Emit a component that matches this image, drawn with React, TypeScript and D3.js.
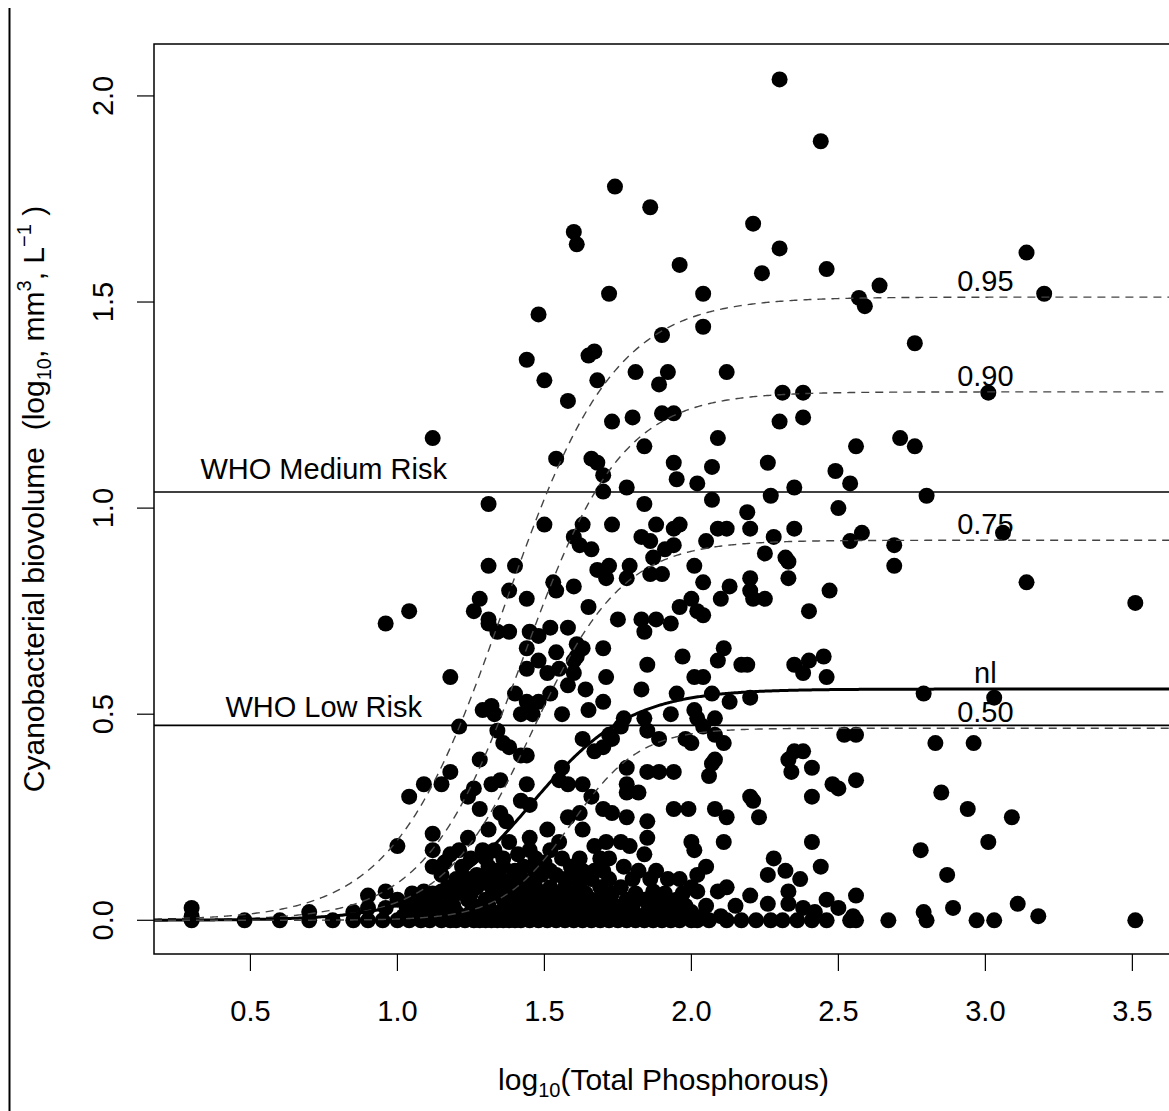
import React from 'react';
import * as d3 from 'd3';

// ---------- data (log10 TP, log10 biovolume) ----------
const highPoints: [number, number][] = [
  [2.30,2.04],[2.44,1.89],[1.74,1.78],[1.86,1.73],[2.21,1.69],[1.60,1.67],[1.61,1.64],[2.30,1.63],[3.14,1.62],
  [1.96,1.59],[2.24,1.57],[2.46,1.58],[2.64,1.54],[1.72,1.52],[2.04,1.52],[2.57,1.51],[2.59,1.49],[3.20,1.52],
  [1.48,1.47],[1.90,1.42],[2.04,1.44],[1.44,1.36],[1.65,1.37],[1.67,1.38],[1.50,1.31],[1.68,1.31],[1.81,1.33],
  [1.92,1.33],[1.89,1.30],[2.12,1.33],[1.58,1.26],[2.76,1.40],[2.31,1.28],[2.38,1.28],[3.01,1.28],[1.73,1.21],
  [1.80,1.22],[1.90,1.23],[1.94,1.23],[2.30,1.21],[2.38,1.22],[1.12,1.17],[2.09,1.17],[2.56,1.15],[2.71,1.17],
  [2.76,1.15],[1.84,1.15],[1.54,1.12],[1.66,1.12],[1.68,1.11],[1.94,1.11],[2.26,1.11],[2.07,1.10],[1.70,1.08],
  [1.95,1.07],[2.49,1.09],[2.02,1.06],[2.54,1.06],[2.35,1.05],[2.07,1.02],[2.80,1.03],[2.27,1.03],[2.50,1.00],
  [1.31,1.01],[1.70,1.04],[1.78,1.05],[1.84,1.01]
];

const midPoints: [number, number][] = [
  [2.19,0.99],[1.73,0.96],[1.88,0.96],[1.94,0.95],[1.96,0.96],[1.50,0.96],[1.63,0.96],[2.09,0.95],[2.12,0.95],
  [2.20,0.95],[2.35,0.95],[1.60,0.93],[1.62,0.91],[1.66,0.90],[1.83,0.93],[1.86,0.92],[1.91,0.90],[1.94,0.91],
  [2.05,0.92],[2.28,0.93],[2.58,0.94],[3.06,0.94],[2.54,0.92],[2.69,0.91],[2.25,0.89],[2.32,0.88],[1.31,0.86],
  [1.40,0.86],[1.68,0.85],[1.72,0.86],[1.79,0.86],[1.87,0.88],[1.53,0.82],[1.54,0.80],[1.60,0.81],[1.71,0.83],
  [1.78,0.83],[1.86,0.84],[1.90,0.84],[2.01,0.86],[2.04,0.82],[2.69,0.86],[2.20,0.83],[3.14,0.82],[2.33,0.83],
  [1.38,0.80],[1.44,0.78],[1.28,0.78],[1.26,0.75],[1.31,0.73],[1.31,0.72],[1.34,0.70],[1.38,0.70],[1.45,0.70],
  [1.48,0.69],[1.52,0.71],[1.58,0.71],[1.61,0.67],[1.63,0.66],[1.65,0.76],[1.75,0.73],[1.83,0.73],[1.84,0.70],
  [1.88,0.73],[1.93,0.72],[1.96,0.76],[2.00,0.78],[2.02,0.75],[2.04,0.74],[2.13,0.81],[2.20,0.80],[2.21,0.78],
  [2.25,0.78],[2.33,0.87],[2.47,0.80],[2.40,0.75],[2.10,0.78],[0.96,0.72],[1.04,0.75],[3.51,0.77],
  [1.44,0.66],[1.48,0.63],[1.54,0.65],[1.61,0.64],[1.44,0.61],[1.51,0.60],[1.55,0.61],[1.60,0.60],[1.60,0.63],
  [1.70,0.66],[1.85,0.62],[1.97,0.64],[2.11,0.66],[2.09,0.63],[2.17,0.62],[2.19,0.62],[2.35,0.62],[2.40,0.63],
  [2.45,0.64]
];

const lowPoints: [number, number][] = [
  [1.71,0.59],[1.58,0.57],[1.64,0.56],[2.01,0.59],[2.04,0.59],[1.18,0.59],[1.40,0.55],[1.44,0.53],[1.48,0.53],
  [1.52,0.55],[1.83,0.56],[1.95,0.55],[2.38,0.60],[2.46,0.59],[2.07,0.55],[2.13,0.53],[2.20,0.54],[1.70,0.53],
  [2.79,0.55],[3.03,0.54],
  [1.29,0.51],[1.32,0.52],[1.33,0.50],[1.42,0.50],[1.46,0.50],[1.56,0.50],[1.65,0.51],[1.21,0.47],[1.34,0.46],
  [1.36,0.43],[1.38,0.42],[1.42,0.40],[1.44,0.40],[1.63,0.44],[1.72,0.45],[1.76,0.47],[1.77,0.49],[1.73,0.44],
  [1.70,0.42],[1.67,0.41],[1.28,0.39],[1.84,0.49],[1.85,0.46],[1.89,0.44],[1.93,0.50],[1.98,0.44],[2.01,0.51],
  [2.02,0.49],[2.04,0.47],[2.08,0.49],[2.08,0.45],[2.11,0.43],[2.00,0.43],[2.08,0.39],[2.52,0.45],[2.56,0.45],
  [2.33,0.39],[2.38,0.41],[2.35,0.41],[2.41,0.37],[2.83,0.43],[2.96,0.43],
  [1.18,0.36],[1.15,0.33],[1.09,0.33],[1.04,0.30],[1.35,0.34],[1.32,0.33],[1.44,0.33],[1.26,0.32],[1.56,0.37],
  [1.78,0.37],[1.85,0.36],[1.89,0.36],[1.94,0.36],[2.06,0.35],[1.55,0.34],[1.58,0.33],[1.63,0.33],[1.78,0.33],
  [2.07,0.38],[2.34,0.36],[2.48,0.33],[2.50,0.32],[2.56,0.34],[2.85,0.31]
];

const basePoints: [number, number][] = [
  [1.24,0.30],[1.28,0.27],[1.42,0.29],[1.45,0.28],[1.35,0.26],[1.37,0.24],[1.31,0.22],[1.24,0.20],[1.12,0.21],
  [1.66,0.30],[1.78,0.31],[1.82,0.31],[2.20,0.30],[1.70,0.27],[1.73,0.26],[1.78,0.25],[1.62,0.26],[1.63,0.22],
  [1.58,0.25],[1.85,0.24],[1.94,0.27],[1.99,0.27],[2.08,0.27],[2.12,0.25],[2.21,0.29],[2.23,0.25],[2.41,0.30],
  [1.51,0.22],[1.45,0.20],[1.55,0.19],[2.94,0.27],[3.09,0.25],
  [1.12,0.17],[1.12,0.13],[1.00,0.18],[1.29,0.17],[1.33,0.17],[1.22,0.13],[1.31,0.13],[1.36,0.13],[1.43,0.13],
  [1.50,0.14],[1.41,0.16],[1.56,0.15],[1.85,0.20],[1.67,0.18],[1.71,0.19],[1.76,0.19],[1.79,0.18],[1.84,0.16],
  [2.00,0.19],[2.01,0.17],[1.72,0.15],[1.77,0.13],[1.82,0.12],[1.88,0.12],[1.96,0.10],[1.59,0.13],[1.67,0.12],
  [1.61,0.10],[2.11,0.19],[2.41,0.19],[2.05,0.13],[2.28,0.15],[2.32,0.12],[2.26,0.11],[2.37,0.10],[2.44,0.13],
  [2.02,0.11],[2.78,0.17],[2.87,0.11],[3.01,0.19],
  [1.18,0.16],[1.21,0.17],[1.25,0.15],[1.27,0.11],[1.38,0.19],[1.45,0.17],[1.52,0.17],[1.49,0.11],[1.54,0.11],
  [1.42,0.10],[1.35,0.10],[1.20,0.10],[1.15,0.11],[1.16,0.14]
];

const nearZeroPoints: [number, number][] = [
  [0.30,0.03],[0.30,0.01],[0.70,0.02],[0.85,0.02],[0.90,0.06],[0.90,0.03],[0.96,0.07],[0.96,0.03],[1.00,0.05],
  [1.09,0.07],[1.09,0.04],[1.15,0.07],
  [1.10,0.02],[1.15,0.02],[1.20,0.02],[1.25,0.02],[1.30,0.02],[1.35,0.02],[1.40,0.02],[1.45,0.02],[1.50,0.02],
  [1.55,0.02],[1.60,0.02],[1.65,0.02],[1.70,0.02],[1.75,0.02],[1.80,0.02],[1.85,0.02],[1.90,0.02],[1.95,0.02],
  [2.00,0.02],
  [1.12,0.05],[1.18,0.05],[1.24,0.05],[1.30,0.05],[1.36,0.05],[1.42,0.05],[1.48,0.05],[1.54,0.05],[1.60,0.05],
  [1.66,0.05],[1.72,0.05],[1.78,0.05],[1.84,0.05],[1.90,0.05],
  [1.17,0.08],[1.22,0.08],[1.27,0.08],[1.32,0.08],[1.37,0.08],[1.42,0.08],[1.47,0.08],[1.52,0.08],[1.57,0.08],
  [1.62,0.08],[1.69,0.08],[1.76,0.08],
  [1.58,0.06],[1.65,0.04],[1.78,0.03],[1.87,0.03],[1.92,0.03],[1.87,0.07],[1.95,0.05],[2.00,0.08],[2.02,0.07],
  [2.09,0.07],[2.12,0.08],[2.20,0.06],[2.33,0.07],[2.26,0.04],[2.33,0.04],[2.38,0.03],[2.46,0.05],[2.56,0.06],
  [2.42,0.02],[2.55,0.01],[2.50,0.03],[2.89,0.03],[3.11,0.04],[3.18,0.01],[2.79,0.02]
];

const denseBandPoints: [number, number][] = [
  [1.02,0.01],[1.06,0.01],[1.13,0.01],[1.17,0.01],[1.22,0.01],[1.27,0.01],[1.33,0.01],[1.38,0.01],[1.43,0.01],
  [1.47,0.01],[1.53,0.01],[1.58,0.01],[1.62,0.01],[1.67,0.01],[1.73,0.01],[1.77,0.01],[1.83,0.01],[1.88,0.01],
  [1.92,0.01],[1.98,0.01],[2.04,0.01],[2.10,0.01],
  [1.03,0.035],[1.07,0.035],[1.14,0.035],[1.19,0.035],[1.26,0.035],[1.31,0.035],[1.37,0.035],[1.41,0.035],
  [1.46,0.035],[1.51,0.035],[1.57,0.035],[1.63,0.035],[1.68,0.035],[1.74,0.035],[1.80,0.035],[1.86,0.035],
  [1.93,0.035],[1.98,0.035],[2.05,0.035],[2.15,0.035],
  [1.05,0.065],[1.12,0.065],[1.20,0.065],[1.25,0.065],[1.34,0.065],[1.39,0.065],[1.45,0.065],[1.50,0.065],
  [1.55,0.065],[1.64,0.065],[1.70,0.065],[1.73,0.065],[1.81,0.065],[1.91,0.065],[1.97,0.065],
  [1.24,0.10],[1.30,0.10],[1.39,0.10],[1.46,0.10],[1.57,0.10],[1.66,0.10],[1.72,0.10],[1.80,0.10],[1.86,0.10],
  [1.92,0.10],
  [1.33,0.12],[1.40,0.12],[1.47,0.12],[1.52,0.12],[1.63,0.12],[1.70,0.12],
  [1.30,0.15],[1.36,0.15],[1.47,0.15],[1.62,0.15],[1.69,0.15]
];

const zeroTP: number[] = [
  0.30,0.48,0.60,0.70,0.78,0.85,0.90,0.95,1.00,1.04,1.08,1.11,1.15,1.18,1.20,1.23,1.26,1.28,1.30,1.32,1.34,
  1.36,1.38,1.40,1.42,1.45,1.48,1.51,1.54,1.57,1.60,1.63,1.66,1.69,1.72,1.75,1.78,1.81,1.84,1.87,1.90,1.93,
  1.96,2.00,2.02,2.06,2.12,2.17,2.22,2.27,2.31,2.36,2.41,2.46,2.54,2.56,2.67,2.80,2.97,3.03,3.51
];

// fitted logistic curves (quantiles and nl)
const curveLabels = ['0.95', '0.90', '0.75', 'nl', '0.50'];
const curveAsym = [1.512, 1.282, 0.922, 0.561, 0.466];
const curveMid = [1.361, 1.43, 1.46, 1.453, 1.59];
const curveRate = [5.3, 6.0, 6.5, 5.9, 8.5];

const whoLabels = ['WHO Medium Risk', 'WHO Low Risk'];
const whoLevels = [1.039, 0.473];
const whoLabelX = [0.33, 0.415];

const xTicks = [0.5, 1.0, 1.5, 2.0, 2.5, 3.0, 3.5];
const yTicks = [0.0, 0.5, 1.0, 1.5, 2.0];
const xDomain: [number, number] = [0.172, 3.628];
const yDomain: [number, number] = [-0.0818, 2.126];

const FONT = "'Liberation Sans', Arial, Helvetica, sans-serif";

export default function App() {
  const W = 1169, H = 1111;
  const pl = 154, pr = 1170, pt = 44, pb = 954;
  const x = d3.scaleLinear().domain(xDomain).range([pl, pr]);
  const y = d3.scaleLinear().domain(yDomain).range([pb, pt]);

  const allPoints: [number, number][] = [
    ...zeroTP.map((t) => [t, 0] as [number, number]),
    ...denseBandPoints, ...nearZeroPoints, ...basePoints, ...lowPoints, ...midPoints, ...highPoints,
  ];

  const xs = d3.range(xDomain[0], xDomain[1] + 0.005, 0.005);
  const logistic = (i: number) => (t: number) => curveAsym[i] / (1 + Math.exp(-curveRate[i] * (t - curveMid[i])));
  const line = d3.line<[number, number]>().x((d) => x(d[0])).y((d) => y(d[1]));

  return (
    <svg width={W} height={H} style={{ position: 'absolute', left: 0, top: 0, background: '#fff' }}
      fontFamily={FONT}>
      <defs>
        <clipPath id="plotclip">
          <rect x={pl} y={pt} width={pr - pl} height={pb - pt} />
        </clipPath>
      </defs>
      <rect x={0} y={0} width={W} height={H} fill="#fff" />
      {/* left border artifact */}
      <line x1={9.5} x2={9.5} y1={8} y2={H} stroke="#000" strokeWidth={2} />

      <g clipPath="url(#plotclip)">
        {allPoints.map((p, i) => (
          <circle key={i} cx={x(p[0])} cy={y(p[1])} r={8} fill="#000" />
        ))}
        {whoLevels.map((v, i) => (
          <line key={'w' + i} x1={pl} x2={pr} y1={y(v)} y2={y(v)} stroke="#000" strokeWidth={1.6} />
        ))}
        {curveLabels.map((lab, i) => (
          <path key={'c' + i}
            d={line(xs.map((t) => [t, logistic(i)(t)] as [number, number])) || ''}
            fill="none"
            stroke={lab === 'nl' ? '#000' : '#444'}
            strokeWidth={lab === 'nl' ? 3 : 1.4}
            strokeDasharray={lab === 'nl' ? undefined : '8,6'} />
        ))}
        {whoLabels.map((lab, i) => (
          <text key={'wl' + i} x={x(whoLabelX[i])} y={y(whoLevels[i]) - (i === 0 ? 13 : 8)}
            fontSize={29} fill="#000">{lab}</text>
        ))}
        {curveLabels.map((lab, i) => (
          <text key={'cl' + i} x={x(3.0)} y={y(logistic(i)(3.0)) - 6}
            fontSize={29} textAnchor="middle" fill="#000">{lab}</text>
        ))}
      </g>

      {/* box */}
      <rect x={pl} y={pt} width={pr - pl} height={pb - pt} fill="none" stroke="#000" strokeWidth={1.5} />

      {/* x axis */}
      {xTicks.map((t) => (
        <g key={'xt' + t}>
          <line x1={x(t)} x2={x(t)} y1={pb} y2={pb + 17} stroke="#000" strokeWidth={1.2} />
          <text x={x(t)} y={1021} fontSize={29} textAnchor="middle" fill="#000">{t.toFixed(1)}</text>
        </g>
      ))}
      {/* y axis */}
      {yTicks.map((t) => (
        <g key={'yt' + t}>
          <line x1={pl - 17} x2={pl} y1={y(t)} y2={y(t)} stroke="#000" strokeWidth={1.2} />
          <text transform={`translate(113,${y(t)}) rotate(-90)`} fontSize={29} textAnchor="middle" fill="#000">
            {t.toFixed(1)}
          </text>
        </g>
      ))}

      {/* axis titles */}
      <text x={(pl + 1169) / 2 + 2} y={1090} fontSize={30} textAnchor="middle" fill="#000">
        log<tspan fontSize={20} dy={7}>10</tspan><tspan dy={-7}>(Total Phosphorous)</tspan>
      </text>
      <text transform={`translate(44,${(pt + pb) / 2}) rotate(-90)`} fontSize={30} textAnchor="middle" fill="#000"
        style={{ whiteSpace: 'pre' }}>
        {'Cyanobacterial biovolume  (log'}
        <tspan fontSize={20} dy={7}>10</tspan>
        <tspan dy={-7}>, mm</tspan>
        <tspan fontSize={20} dy={-13}>3</tspan>
        <tspan dy={13}>, L</tspan>
        <tspan fontSize={20} dy={-13}>−1</tspan>
        <tspan dy={13}>{' )'}</tspan>
      </text>
    </svg>
  );
}
